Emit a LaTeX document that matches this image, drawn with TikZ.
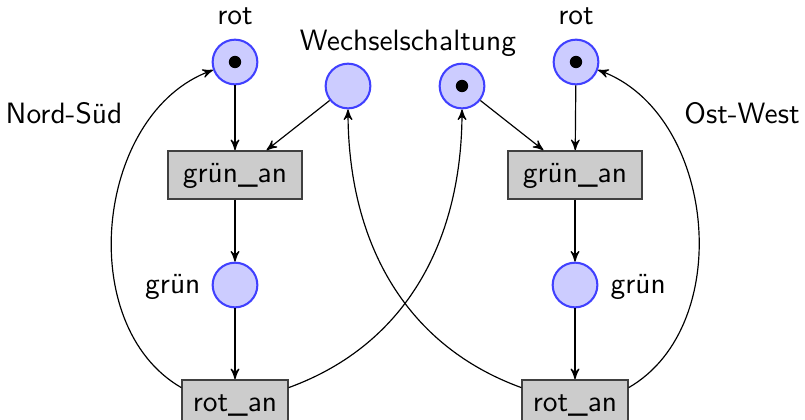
\documentclass[tikz,border=0pt]{standalone}
\usetikzlibrary{arrows}
\renewcommand{\familydefault}{\sfdefault}
\begin{document}
\begin{tikzpicture}[x=0.34pt,y=-0.34pt,>=stealth',
  place/.style={circle,draw=blue!75,fill=blue!20,line width=0.7pt,minimum size=15.2pt,inner sep=0pt},
  transition/.style={rectangle,draw=black!75,fill=black!20,line width=0.7pt,minimum height=16.2pt,inner sep=0pt},
  lbl/.style={anchor=base,inner sep=0pt,font=\sffamily},
  arc/.style={->,line width=0.4pt},
  token/.style={circle,fill=black,inner sep=0pt,minimum size=4.2pt}]
\useasboundingbox (0,0) rectangle (805,419);
% places
\node[place] (rot1) at (235,62) {};
\node[place] (ws1) at (348,86) {};
\node[place] (ws2) at (462,86) {};
\node[place] (rot2) at (576,62) {};
\node[place] (gruen1) at (235,285) {};
\node[place] (gruen2) at (575,285) {};
\node[token] (t1) at (rot1) {};
\node[token] (t2) at (ws2) {};
\node[token] (t3) at (rot2) {};
% transitions
\node[transition,minimum width=45.6pt] (ga1) at (235,175) {};
\node[transition,minimum width=45.6pt] (ga2) at (575,175) {};
\node[transition,minimum width=35.8pt] (ra1) at (235,404) {};
\node[transition,minimum width=35.8pt] (ra2) at (575,404) {};
\node[lbl] at (235,182) {grün\_an};
\node[lbl] at (575,182) {grün\_an};
\node[lbl] at (235,411) {rot\_an};
\node[lbl] at (575,411) {rot\_an};
% labels
\node[lbl] (l1) at (235,24) {rot};
\node[lbl] (l2) at (576,24) {rot};
\node[lbl] (l3) at (408,50) {Wechselschaltung};
\node[lbl] (l4) at (64,123) {Nord-Süd};
\node[lbl] (l5) at (742,123) {Ost-West};
\node[lbl,anchor=base east] (l6) at (201,293) {grün};
\node[lbl,anchor=base west] (l7) at (610,293) {grün};
% straight arcs
\draw[arc] (rot1) -- (ga1);
\draw[arc] (ws1) -- (ga1);
\draw[arc] (ga1) -- (gruen1);
\draw[arc] (gruen1) -- (ra1);
\draw[arc] (rot2) -- (ga2);
\draw[arc] (ws2) -- (ga2);
\draw[arc] (ga2) -- (gruen2);
\draw[arc] (gruen2) -- (ra2);
% curved arcs
\draw[arc] (ra1.163) to[out=150,in=200,looseness=1] (rot1);
\draw[arc] (ra2.17) to[out=30,in=-20,looseness=1] (rot2);
\draw[arc] (ra1.17) to[out=20,in=-90,looseness=1] (ws2);
\draw[arc] (ra2.163) to[out=160,in=-90,looseness=1] (ws1);
\end{tikzpicture}
\end{document}
